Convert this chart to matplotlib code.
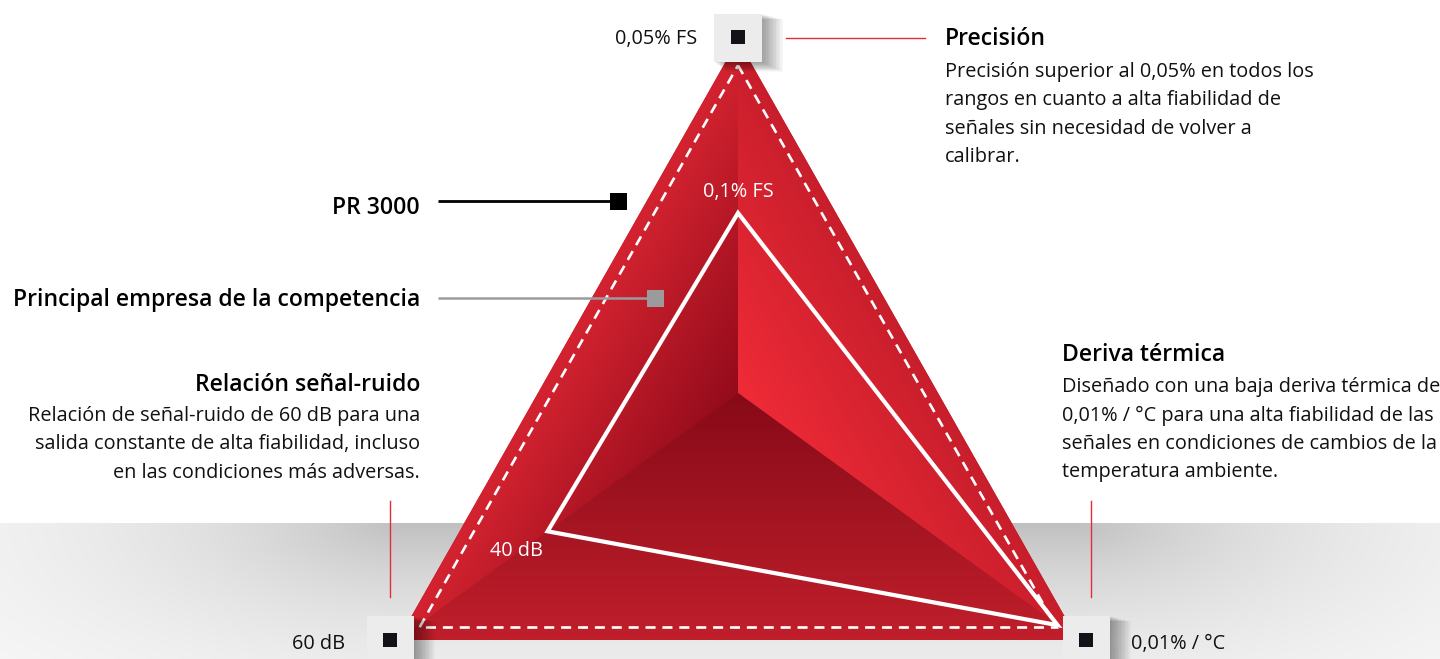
import numpy as np
import matplotlib
matplotlib.use("Agg")
import matplotlib.pyplot as plt
from matplotlib.patches import Polygon, Rectangle
from matplotlib.colors import to_rgb

# ---------------- data ----------------
categories = ["Precisión", "Deriva térmica", "Relación señal-ruido"]
pr3000_labels = ["0,05% FS", "0,01% / °C", "60 dB"]
competitor_labels = ["0,1% FS", "", "40 dB"]
pr3000_scores = [1.0, 1.0, 1.0]
competitor_scores = [0.51, 0.94, 0.56]
series_names = ["PR 3000", "Principal empresa de la competencia"]
desc_precision = ["Precisión superior al 0,05% en todos los",
                  "rangos en cuanto a alta fiabilidad de",
                  "señales sin necesidad de volver a",
                  "calibrar."]
desc_deriva = ["Diseñado con una baja deriva térmica de",
               "0,01% / °C para una alta fiabilidad de las",
               "señales en condiciones de cambios de la",
               "temperatura ambiente."]
desc_snr = ["Relación de señal-ruido de 60 dB para una",
            "salida constante de alta fiabilidad, incluso",
            "en las condiciones más adversas."]

# ---------------- layout ----------------
W, H = 1440, 659
plt.rcParams['font.family'] = ['Open Sans', 'DejaVu Sans']
fig = plt.figure(figsize=(W / 100, H / 100), dpi=100)
ax = fig.add_axes([0, 0, 1, 1])
ax.axis('off')

center = np.array([738.0, 393.0])
axis_ends = [np.array([738.0, 40.0]), np.array([1078.0, 640.0]), np.array([398.0, 640.0])]  # top, right, left


def radar_pts(scores):
    return np.array([center + s * (e - center) for s, e in zip(scores, axis_ends)])


outer = radar_pts(pr3000_scores)
inner = radar_pts(competitor_scores)
T, BR, BL = outer

# ---------- gray floor background ----------
ys = np.arange(523, H) + 0.5
xs = np.arange(0, W) + 0.5
X, Y = np.meshgrid(xs, ys)
beyond = np.maximum(np.abs(X - 738) - 335, 0)
r = np.sqrt((beyond / 300.0) ** 2 + ((Y - 523) / 125.0) ** 2)
dark = 0.25 * np.exp(-1.1 * r)
bg = np.clip(1 - dark, 0, 1)
ax.imshow(np.dstack([bg, bg, bg]), extent=(0, W, H, 523), origin='upper',
          interpolation='bilinear', aspect='auto', zorder=0)


def dist_line(P, Q, X, Y):
    return np.abs((Q[0] - P[0]) * (P[1] - Y) - (P[0] - X) * (Q[1] - P[1])) / np.hypot(*(Q - P))


def facet(poly, edgeP, edgeQ, c_edge, c_center):
    poly = np.asarray(poly)
    x0, x1 = int(np.floor(poly[:, 0].min())) - 2, int(np.ceil(poly[:, 0].max())) + 2
    y0, y1 = int(np.floor(poly[:, 1].min())) - 2, int(np.ceil(poly[:, 1].max())) + 2
    Xg, Yg = np.meshgrid(np.arange(x0, x1) + 0.5, np.arange(y0, y1) + 0.5)
    dmax = dist_line(edgeP, edgeQ, np.array(center[0]), np.array(center[1]))
    t = np.clip(dist_line(edgeP, edgeQ, Xg, Yg) / dmax, 0, 1)
    ce, cc = np.array(to_rgb(c_edge)), np.array(to_rgb(c_center))
    img = ce[None, None, :] * (1 - t[..., None]) + cc[None, None, :] * t[..., None]
    im = ax.imshow(img, extent=(x0, x1, y1, y0), origin='upper',
                   interpolation='bilinear', aspect='auto', zorder=2)
    patch = Polygon(poly, closed=True, transform=ax.transData)
    im.set_clip_path(patch)


# base fill
ax.add_patch(Polygon(outer, closed=True, fc='#b81a28', ec='none', zorder=1.5))
facet([T, center, BL], T, BL, '#d42330', '#930b1b')
facet([T, center, BR], T, BR, '#c81e2c', '#f02b37')
facet([BL, center, BR], BL, BR, '#c01f2b', '#870a18')

# dashed inset line
a = np.hypot(*(BR - BL)); b = np.hypot(*(T - BL)); c = np.hypot(*(T - BR))
inc = (a * T + c * BL + b * BR) / (a + b + c)
area = 0.5 * abs((BR[0] - T[0]) * (BL[1] - T[1]) - (BL[0] - T[0]) * (BR[1] - T[1]))
rin = 2 * area / (a + b + c)
k = (rin - 12.5) / rin
inset = inc + k * (outer - inc)
ax.add_patch(Polygon(inset, closed=True, fill=False, ec='white', lw=1.9,
                     linestyle=(0, (3.8, 2.6)), zorder=3))

# competitor triangle
ax.add_patch(Polygon(inner, closed=True, fill=False, ec='white', lw=3.0,
                     joinstyle='miter', zorder=4))

fs_body = 14.3
fs_head = 16.6

# value labels inside
ax.text(inner[0][0], inner[0][1] - 21, competitor_labels[0], color='white', fontsize=fs_body,
        ha='center', va='center', zorder=5)
ax.text(517, 551, competitor_labels[2], color='white', fontsize=fs_body,
        ha='center', va='center', zorder=5)

# legend lines
ax.plot([438, 612], [201, 201], color='black', lw=2.0, zorder=6, solid_capstyle='butt')
ax.add_patch(Rectangle((610, 193), 17, 17, fc='black', ec='none', zorder=6))
ax.plot([438, 650], [298, 298], color='#9b9b9e', lw=1.8, zorder=6, solid_capstyle='butt')
ax.add_patch(Rectangle((647, 290), 17, 17, fc='#9b9b9e', ec='none', zorder=6))
ax.text(420, 208, series_names[0], fontsize=fs_head, fontweight='semibold', ha='right', va='center', color='black')
ax.text(420, 300, series_names[1], fontsize=fs_head, fontweight='semibold', ha='right', va='center', color='black')

# callout lines
red = '#e52d3a'
ax.plot([786, 925], [38, 38], color=red, lw=1.0, zorder=6)
ax.plot([390, 390], [501, 597], color=red, lw=1.0, zorder=6)
ax.plot([1091, 1091], [501, 597], color=red, lw=1.0, zorder=6)


def box(cx, top, w=48, h=48, mark_cy=None):
    x0 = cx - w / 2
    for i in range(1, 16):
        ax.add_patch(Rectangle((x0 + i * 0.8, top + i * 0.35), w + i * 0.6, h + i * 0.3,
                               fc='black', ec='none', alpha=0.028, zorder=7))
    ax.add_patch(Rectangle((x0, top), w, h, fc='#ececec', ec='none', zorder=7.5))
    ax.add_patch(Rectangle((cx - 7, mark_cy - 7), 14, 14, fc='#111318', ec='none', zorder=8))


box(738, 14, mark_cy=37)
box(390, 616, w=47, h=50, mark_cy=640)
box(1086, 616, w=47, h=50, mark_cy=640)

# PR3000 value labels
ax.text(697, 39, pr3000_labels[0], fontsize=fs_body, ha='right', va='center', color='#111111')
ax.text(345, 644, pr3000_labels[2], fontsize=fs_body, ha='right', va='center', color='#111111')
ax.text(1131, 644, pr3000_labels[1], fontsize=fs_body, ha='left', va='center', color='#111111')

# category headings and descriptions
ax.text(945, 39, categories[0], fontsize=fs_head, fontweight='semibold', ha='left', va='center', color='black')
for i, line in enumerate(desc_precision):
    ax.text(945, 72 + i * 28.5, line, fontsize=fs_body, ha='left', va='center', color='#111111')

ax.text(1062, 355, categories[1], fontsize=fs_head, fontweight='semibold', ha='left', va='center', color='black')
for i, line in enumerate(desc_deriva):
    ax.text(1062, 387 + i * 28.5, line, fontsize=fs_body, ha='left', va='center', color='#111111')

ax.text(420, 385, categories[2], fontsize=fs_head, fontweight='semibold', ha='right', va='center', color='black')
for i, line in enumerate(desc_snr):
    ax.text(420, 416 + i * 28.5, line, fontsize=fs_body, ha='right', va='center', color='#111111')

ax.set_xlim(0, W)
ax.set_ylim(H, 0)
fig.savefig("out.png", dpi=100, facecolor='white')
